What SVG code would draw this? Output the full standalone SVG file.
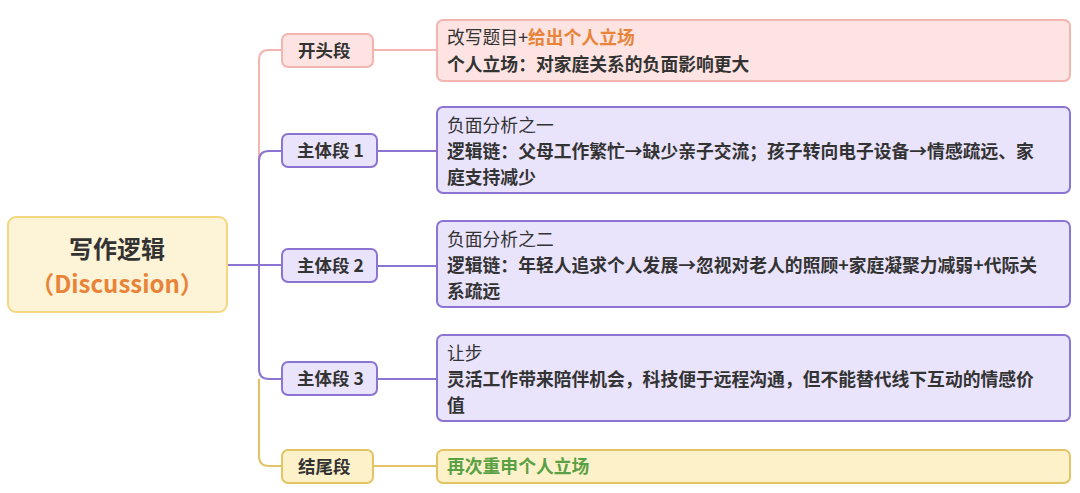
<svg xmlns="http://www.w3.org/2000/svg" width="1080" height="493" viewBox="0 0 1080 493">
<style>
text{font-family:"Noto Sans CJK SC","Noto Sans",sans-serif;fill:#333;}
.b{font-weight:bold;}
.br{font-size:17.5px;font-weight:bold;}
.d{font-size:17.8px;}
.pk{fill:#fde3e1;stroke:#f4b4b0;stroke-width:2;}
.pu{fill:#e9e3fb;stroke:#8c74d2;stroke-width:2;}
.ye{fill:#fdf1c9;stroke:#e2c466;stroke-width:2;}
.c{fill:none;stroke-width:2;}
</style>
<rect width="1080" height="493" fill="#fff"/>
<g id="connectors">
<path class="c" stroke="#f4b4b0" d="M259 265 V60 Q259 50 269 50 H282 M373 50 H437"/>
<path class="c" stroke="#8c74d2" d="M227 265 H282 M259 265 V161 Q259 151 269 151 H282 M259 265 V369 Q259 379 269 379 H282 M377 151 H437 M377 266 H437 M377 379 H437"/>
<path class="c" stroke="#e2c466" d="M259 379 V456 Q259 466 269 466 H282 M373 466 H437"/>
</g>
<g id="root"><rect x="8" y="217" width="219" height="95" rx="8" fill="#fdf3d6" stroke="#f5d77f" stroke-width="2"/>
<text x="117" y="258" text-anchor="middle" font-size="24" class="b">写作逻辑</text>
<text x="117" y="293" text-anchor="middle" font-size="24" class="b" style="fill:#e8843a">（Discussion）</text></g>
<g id="n1"><rect class="pk" x="282" y="34" width="91" height="33" rx="6"/><text class="br" x="298" y="57">开头段</text></g>
<g id="n2"><rect class="pu" x="282" y="134" width="95" height="33" rx="6"/><text class="br" x="297" y="157">主体段 1</text></g>
<g id="n3"><rect class="pu" x="282" y="249" width="95" height="33" rx="6"/><text class="br" x="297" y="272">主体段 2</text></g>
<g id="n4"><rect class="pu" x="282" y="362" width="95" height="33" rx="6"/><text class="br" x="297" y="385">主体段 3</text></g>
<g id="n5"><rect class="ye" x="282" y="450" width="91" height="33" rx="6"/><text class="br" x="298" y="473">结尾段</text></g>
<g id="d1"><rect class="pk" x="437" y="20" width="633" height="61" rx="6"/>
<text class="d" x="447" y="44">改写题目+<tspan class="b" style="fill:#e8843a">给出个人立场</tspan></text>
<text class="d b" x="447" y="71">个人立场：对家庭关系的负面影响更大</text></g>
<g id="d2"><rect class="pu" x="437" y="107" width="633" height="86" rx="6"/>
<text class="d" x="447" y="132">负面分析之一</text>
<text class="d b" x="447" y="158">逻辑链：父母工作繁忙→缺少亲子交流；孩子转向电子设备→情感疏远、家</text>
<text class="d b" x="447" y="184">庭支持减少</text></g>
<g id="d3"><rect class="pu" x="437" y="221" width="633" height="86" rx="6"/>
<text class="d" x="447" y="246">负面分析之二</text>
<text class="d b" x="447" y="272">逻辑链：年轻人追求个人发展→忽视对老人的照顾+家庭凝聚力减弱+代际关</text>
<text class="d b" x="447" y="298">系疏远</text></g>
<g id="d4"><rect class="pu" x="437" y="335" width="633" height="86" rx="6"/>
<text class="d" x="447" y="360">让步</text>
<text class="d b" x="447" y="386">灵活工作带来陪伴机会，科技便于远程沟通，但不能替代线下互动的情感价</text>
<text class="d b" x="447" y="412">值</text></g>
<g id="d5"><rect class="ye" x="437" y="450" width="633" height="33" rx="6"/>
<text class="d b" x="447" y="473" style="fill:#5aa045">再次重申个人立场</text></g>
</svg>
